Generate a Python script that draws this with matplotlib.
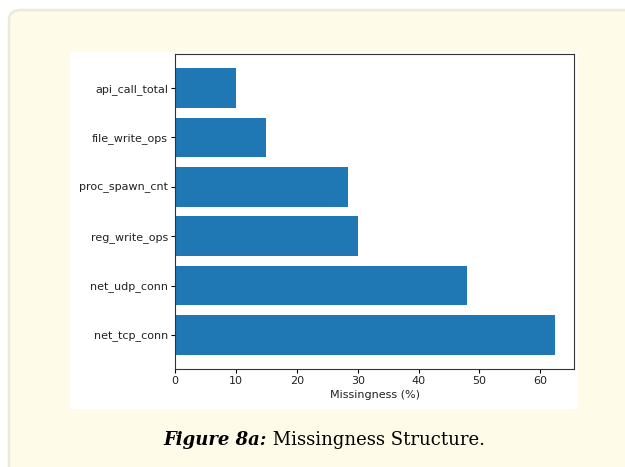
import matplotlib
matplotlib.use("Agg")
import matplotlib.pyplot as plt
from matplotlib.patches import FancyBboxPatch, Rectangle

## Daten (von unten nach oben)
features = ["net_tcp_conn", "net_udp_conn", "reg_write_ops",
            "proc_spawn_cnt", "file_write_ops", "api_call_total"]
missing_pct = [62.4, 47.9, 30.1, 28.4, 15.0, 10.0]

W, H = 625, 467
fig = plt.figure(figsize=(W / 100, H / 100), dpi=100)
fig.patch.set_facecolor("white")

## cremefarbenes Panel mit runden Ecken
panel = FancyBboxPatch((9 / W, -20 / H), (W + 30) / W, (H - 10 + 20) / H,
                       boxstyle="round,pad=0,rounding_size=0.02",
                       transform=fig.transFigure, facecolor="#fffbe9",
                       edgecolor="#ebe8dc", linewidth=1.8, zorder=0)
fig.patches.append(panel)

## weisser Bereich fuer das Diagramm
white = Rectangle((70 / W, 1 - 409 / H), (578 - 70) / W, (409 - 52) / H,
                  transform=fig.transFigure, facecolor="white",
                  edgecolor="none", zorder=1)
fig.patches.append(white)

ax = fig.add_axes([175 / W, 1 - 369 / H, (574 - 175) / W, (369 - 54) / H])
ax.set_zorder(2)
ax.barh(features, missing_pct, color="#1f77b4")
ax.set_xlabel("Missingness (%)", fontsize=8, labelpad=3, color="#222222")
ax.tick_params(labelsize=8, length=3, pad=2, labelcolor="#222222")
for s in ax.spines.values():
  s.set_linewidth(0.8)
  s.set_color("#333333")

## Bildunterschrift
r = fig.canvas.get_renderer()
t1 = fig.text(0, 0, "Figure 8a:", family="DejaVu Serif", weight="bold",
              style="italic", fontsize=13)
t2 = fig.text(0, 0, " Missingness Structure.", family="DejaVu Serif", fontsize=13)
w1 = t1.get_window_extent(renderer=r).width
w2 = t2.get_window_extent(renderer=r).width
x0 = 324 - (w1 + w2) / 2
yc = 1 - 440 / H
t1.set_position((x0 / W, yc))
t1.set_va("center")
t2.set_position(((x0 + w1) / W, yc))
t2.set_va("center")

fig.savefig("out.png", dpi=100)
